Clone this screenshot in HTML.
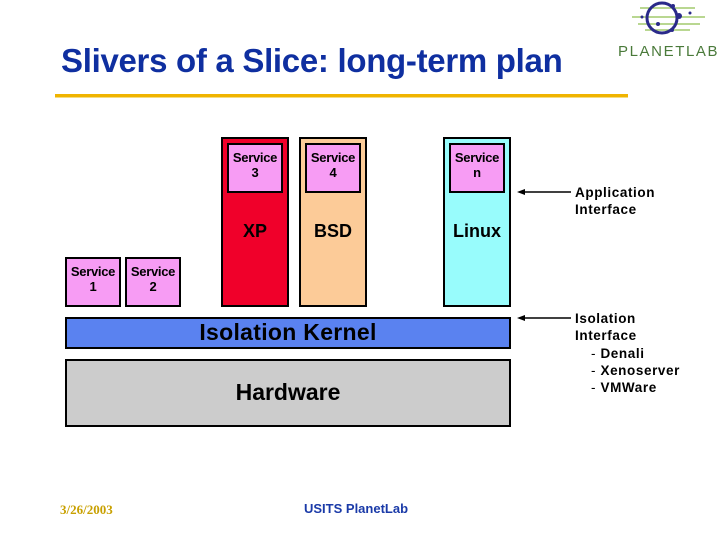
<!DOCTYPE html>
<html><head><meta charset="utf-8"><style>
body{margin:0;width:719px;height:539px;background:#fff;position:relative;overflow:hidden;font-family:"Liberation Sans",Arial,sans-serif}
.a{position:absolute;box-sizing:border-box}
.b{border:2px solid #000}
.t{font-weight:bold;text-align:center}
.svc{background:#f79cf4;font-size:13px;line-height:15px;padding-top:5px;font-weight:bold;text-align:center;overflow:hidden;white-space:nowrap;letter-spacing:-0.3px}
.lbl{position:absolute;font-weight:bold;font-size:13.5px;line-height:17px;color:#000;letter-spacing:0.6px}
</style></head><body>
<div class="a" style="left:61px;top:42px;font-size:33px;font-weight:bold;color:#0f2fa0;white-space:nowrap;letter-spacing:-0.3px">Slivers of a Slice: long-term plan</div>
<div class="a" style="left:55px;top:94px;width:573px;height:3px;background:#f0b400"></div>
<div class="a" style="left:55px;top:97px;width:573px;height:1px;background:#f5dc80"></div>
<!-- logo -->
<svg class="a" style="left:615px;top:0" width="104" height="65">
<g stroke="#8fbf4f" stroke-width="1.2">
<line x1="25" y1="8" x2="80" y2="8"/><line x1="17" y1="17" x2="90" y2="17"/><line x1="23" y1="24" x2="85" y2="24"/><line x1="30" y1="30" x2="75" y2="30"/></g>
<circle cx="47" cy="18" r="15" fill="none" stroke="#2a2a8a" stroke-width="3"/>
<g fill="#2a2a8a"><circle cx="58" cy="6" r="2"/><circle cx="64" cy="16" r="3"/><circle cx="75" cy="13" r="1.5"/><circle cx="43" cy="24" r="2"/><circle cx="57" cy="30" r="2"/><circle cx="27" cy="17" r="1.5"/></g>
<text x="3" y="56" font-family="Liberation Sans,sans-serif" font-size="15" fill="#4a7a3a" letter-spacing="1.6">PLANETLAB</text>
</svg>
<!-- boxes -->
<div class="a b svc" style="left:65px;top:257px;width:56px;height:50px">Service<br>1</div>
<div class="a b svc" style="left:125px;top:257px;width:56px;height:50px">Service<br>2</div>
<div class="a b" style="left:221px;top:137px;width:68px;height:170px;background:#f0002a"></div>
<div class="a b" style="left:299px;top:137px;width:68px;height:170px;background:#fccb98"></div>
<div class="a b" style="left:443px;top:137px;width:68px;height:170px;background:#98fcfc"></div>
<div class="a b svc" style="left:227px;top:143px;width:56px;height:50px">Service<br>3</div>
<div class="a b svc" style="left:305px;top:143px;width:56px;height:50px">Service<br>4</div>
<div class="a b svc" style="left:449px;top:143px;width:56px;height:50px">Service<br>n</div>
<div class="a t" style="left:221px;top:221px;width:68px;font-size:18px">XP</div>
<div class="a t" style="left:299px;top:221px;width:68px;font-size:18px">BSD</div>
<div class="a t" style="left:443px;top:221px;width:68px;font-size:18px">Linux</div>
<div class="a b t" style="left:65px;top:317px;width:446px;height:32px;background:#5a82f0;font-size:23px;line-height:27px;letter-spacing:0.3px">Isolation Kernel</div>
<div class="a b t" style="left:65px;top:359px;width:446px;height:68px;background:#cccccc;font-size:23px;line-height:62px">Hardware</div>
<!-- arrows -->
<svg class="a" style="left:515px;top:185px" width="60" height="140">
<line x1="6" y1="7" x2="56" y2="7" stroke="#000" stroke-width="1.5"/><polygon points="2,7 10,4 10,10" fill="#000"/>
<line x1="6" y1="133" x2="56" y2="133" stroke="#000" stroke-width="1.5"/><polygon points="2,133 10,130 10,136" fill="#000"/>
</svg>
<div class="lbl" style="left:575px;top:184px">Application<br>Interface</div>
<div class="lbl" style="left:575px;top:310px">Isolation<br>Interface</div>
<div class="lbl" style="left:591px;top:345px"><span style="font-weight:normal">-</span> Denali<br><span style="font-weight:normal">-</span> Xenoserver<br><span style="font-weight:normal">-</span> VMWare</div>
<div class="a" style="left:60px;top:502px;font-family:'Liberation Serif',serif;font-weight:bold;font-size:13px;color:#c8a000">3/26/2003</div>
<div class="a" style="left:304px;top:501px;font-weight:bold;font-size:13px;color:#1a3aa8">USITS PlanetLab</div>
</body></html>
